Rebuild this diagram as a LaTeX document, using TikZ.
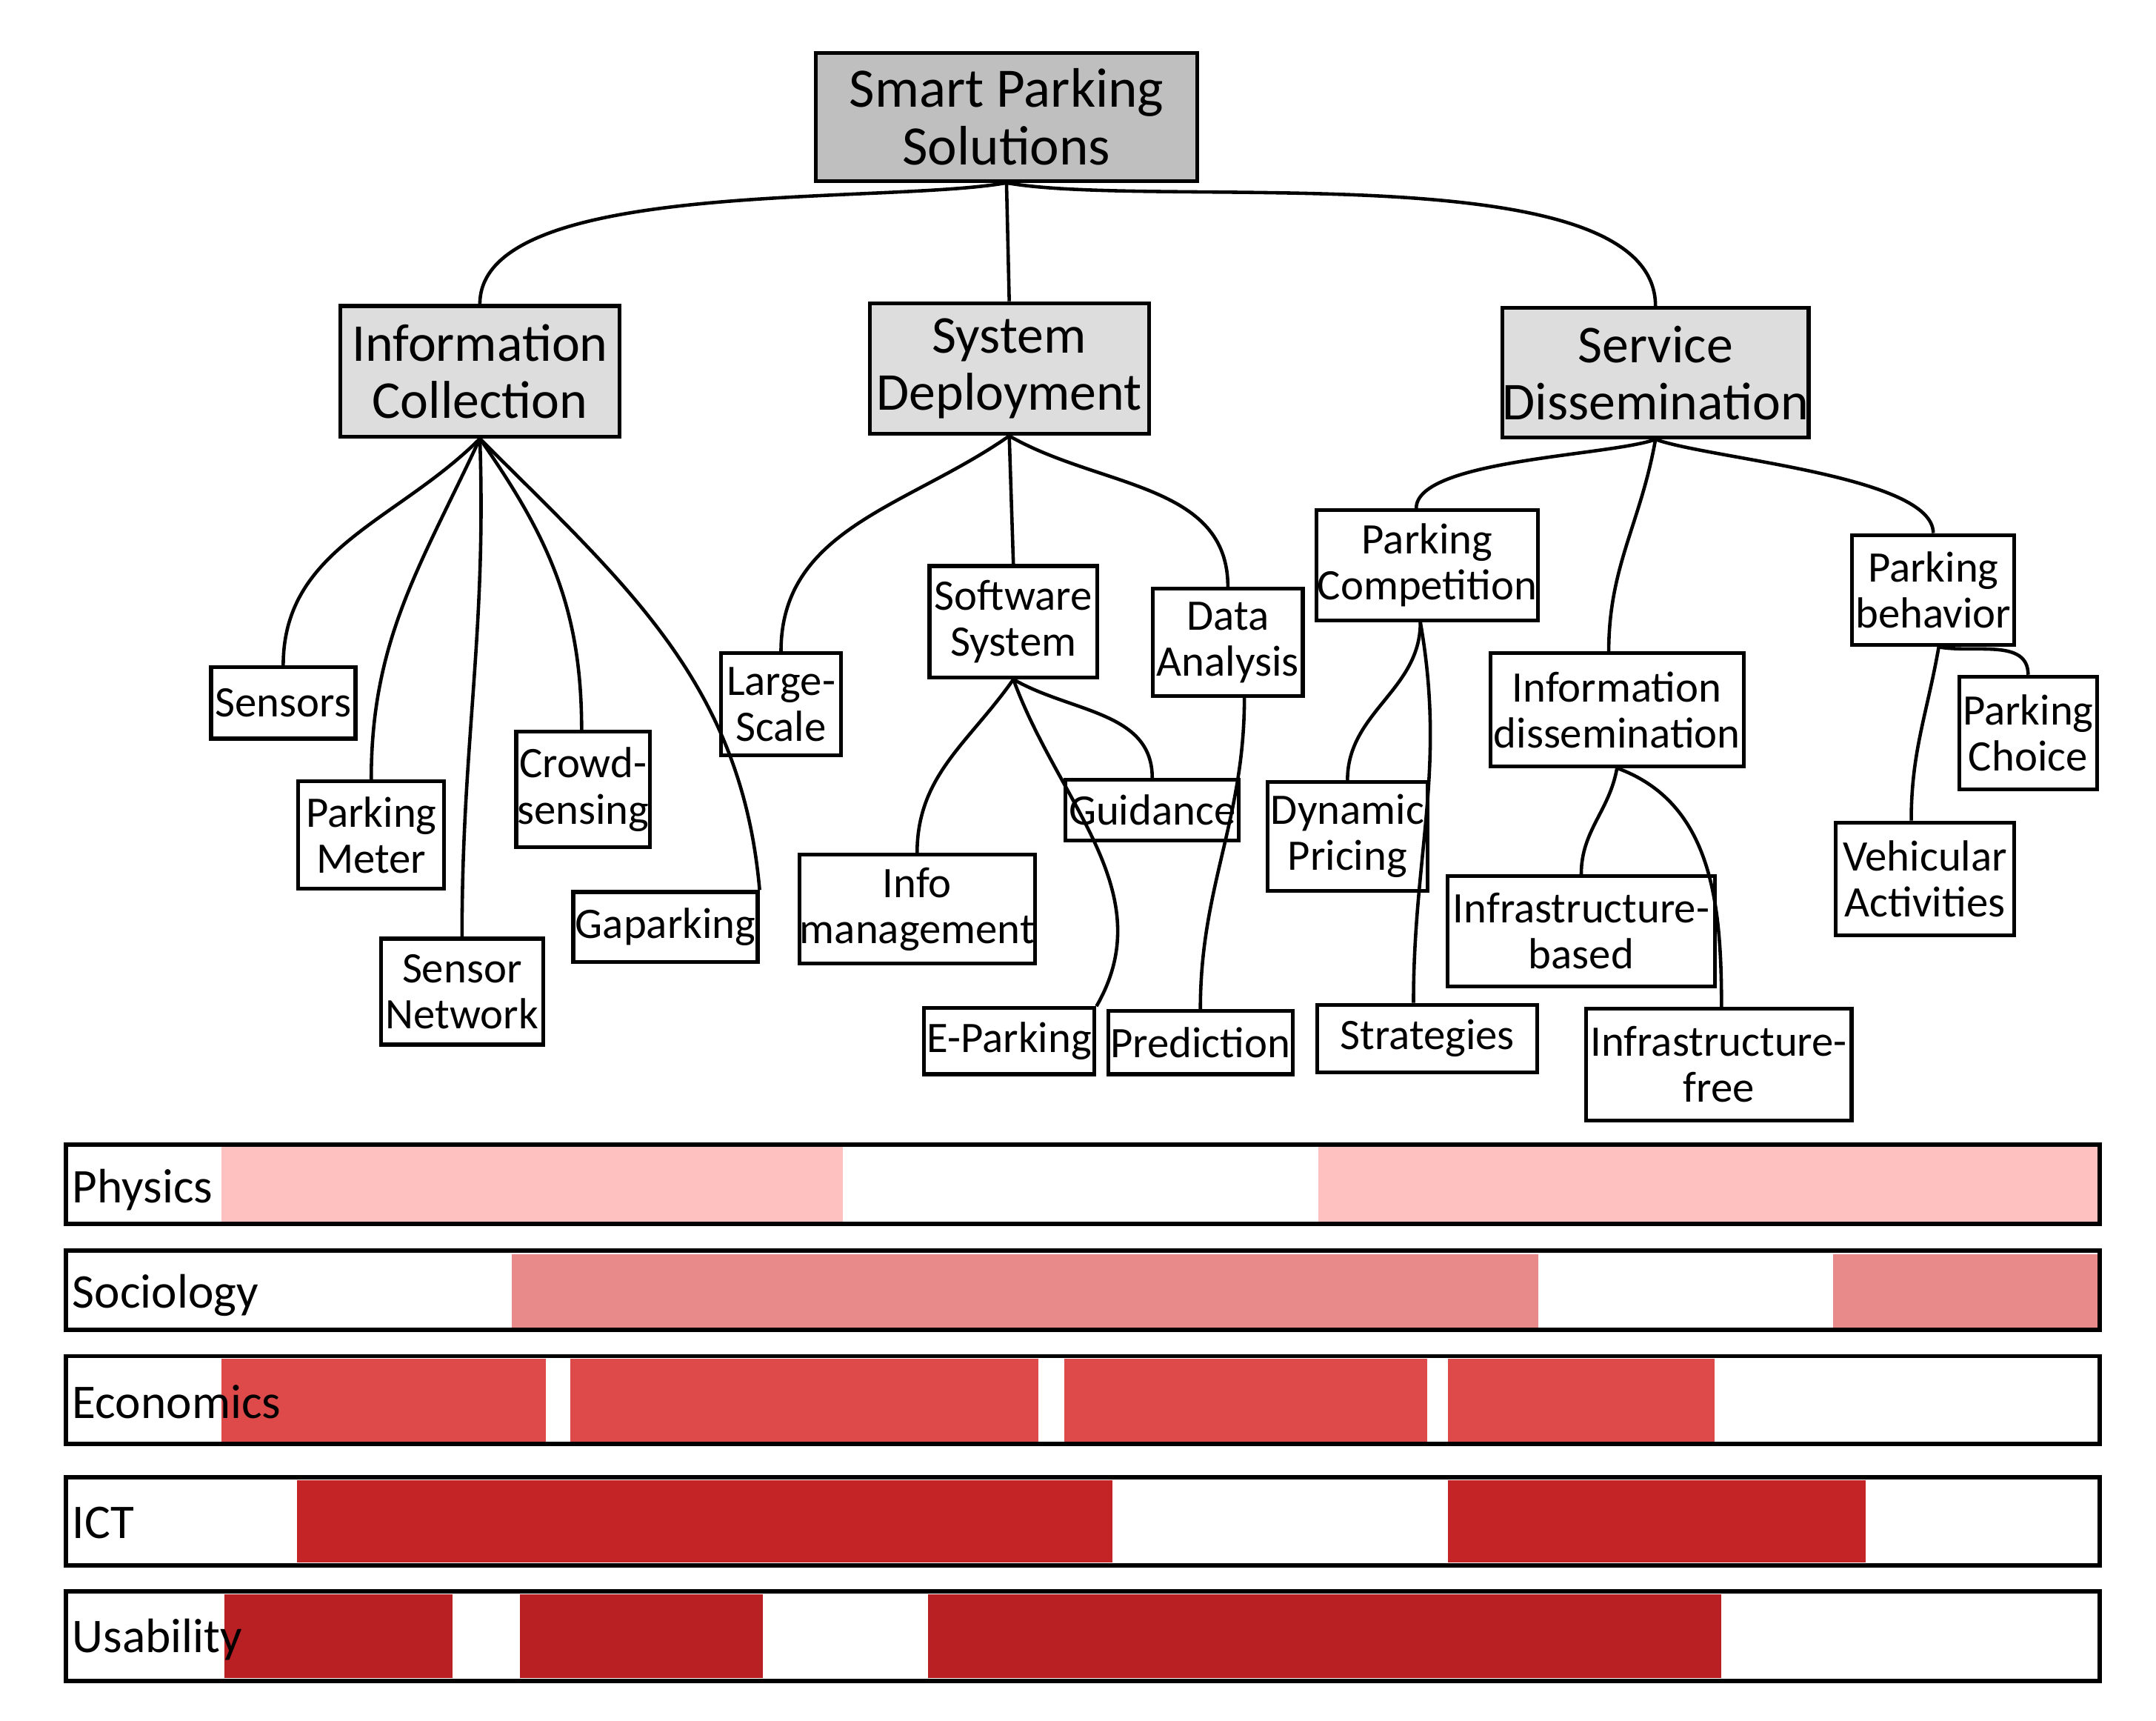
\documentclass[tikz,border=0pt]{standalone}
\usepackage{fontspec}
\setmainfont{Carlito}
\usepackage{tikz}

\definecolor{rootgray}{RGB}{191,191,191}
\definecolor{midgray}{RGB}{221,221,221}
\definecolor{physc}{RGB}{255,192,192}
\definecolor{socc}{RGB}{232,138,138}
\definecolor{ecoc}{RGB}{222,74,74}
\definecolor{ictc}{RGB}{196,36,38}
\definecolor{usac}{RGB}{185,32,36}

\tikzset{
  box/.style={draw, line width=0.8pt, inner sep=0pt, align=center, font=\fontsize{9}{9.5}\selectfont},
  topbox/.style={box, fill=rootgray, font=\fontsize{11.5}{12}\selectfont},
  midbox/.style={box, fill=midgray, font=\fontsize{11}{11.8}\selectfont},
  link/.style={line width=0.7pt},
  bar/.style={draw, line width=0.9pt},
  barlabel/.style={anchor=west, inner sep=0pt, font=\fontsize{10}{10}\selectfont}
}

\begin{document}
\begin{tikzpicture}[x=0.01cm, y=-0.01cm]
    \useasboundingbox (0,0) rectangle (1568,1251);

    % Tree levels
    \node[topbox, minimum width=2.77cm, minimum height=0.93cm] (root) at (732,85) {Smart Parking\\Solutions};
    \node[midbox, minimum width=2.03cm, minimum height=0.95cm] (info) at (349,270) {Information\\Collection};
    \node[midbox, minimum width=2.03cm, minimum height=0.95cm] (sys) at (734,268) {System\\Deployment};
    \node[midbox, minimum width=2.03cm, minimum height=0.94cm] (serv) at (1204,271) {Service\\Dissemination};

    % Information collection leaves
    \node[box, minimum width=1.05cm, minimum height=0.52cm] (sensors) at (206,511) {Sensors};
    \node[box, minimum width=1.06cm, minimum height=0.78cm] (meter) at (270,607) {Parking\\Meter};
    \node[box, minimum width=1.18cm, minimum height=0.77cm] (snet) at (336,721) {Sensor\\Network};
    \node[box, minimum width=0.97cm, minimum height=0.84cm] (crowd) at (424,574) {Crowd-\\sensing};
    \node[box, minimum width=1.34cm, minimum height=0.51cm] (gap) at (484,674) {Gaparking};

    % System deployment leaves
    \node[box, minimum width=0.87cm, minimum height=0.74cm] (large) at (568,512) {Large-\\Scale};
    \node[box, minimum width=1.22cm, minimum height=0.81cm] (soft) at (737,452) {Software\\System};
    \node[box, minimum width=1.09cm, minimum height=0.78cm] (data) at (893,467) {Data\\Analysis};
    \node[box, minimum width=1.26cm, minimum height=0.44cm] (guid) at (838,589) {Guidance};
    \node[box, minimum width=1.71cm, minimum height=0.79cm] (imgmt) at (667,661) {Info\\management};
    \node[box, minimum width=1.24cm, minimum height=0.48cm] (epark) at (734,757) {E-Parking};
    \node[box, minimum width=1.34cm, minimum height=0.46cm] (pred) at (873,758) {Prediction};

    % Service dissemination leaves
    \node[box, minimum width=1.61cm, minimum height=0.80cm] (comp) at (1038,411) {Parking\\Competition};
    \node[box, minimum width=1.16cm, minimum height=0.79cm] (dyn) at (980,608) {Dynamic\\Pricing};
    \node[box, minimum width=1.60cm, minimum height=0.49cm] (strat) at (1038,755) {Strategies};
    \node[box, minimum width=1.84cm, minimum height=0.82cm] (idis) at (1176,516) {Information\\dissemination};
    \node[box, minimum width=1.94cm, minimum height=0.80cm] (ibased) at (1150,677) {Infrastructure-\\based};
    \node[box, minimum width=1.93cm, minimum height=0.81cm] (ifree) at (1250,774) {Infrastructure-\\free};
    \node[box, minimum width=1.18cm, minimum height=0.80cm] (beh) at (1406,429) {Parking\\behavior};
    \node[box, minimum width=1.00cm, minimum height=0.82cm] (choice) at (1475,533) {Parking\\Choice};
    \node[box, minimum width=1.30cm, minimum height=0.82cm] (veh) at (1400,639) {Vehicular\\Activities};

    % Connectors
    \draw[link] (root.south) to[out=-170, in=90, looseness=0.6] (info.north);
    \draw[link] (root.south) -- (sys.north);
    \draw[link] (root.south) to[out=-10, in=90, looseness=0.6] (serv.north);

    \draw[link] (info.south) to[out=-135, in=90] (sensors.north);
    \draw[link] (info.south) to[out=-115, in=90] (meter.north);
    \draw[link] (info.south) to[out=-88, in=90] (snet.north);
    \draw[link] (info.south) to[out=-55, in=90] ([xshift=-0.01cm]crowd.north);
    \draw[link] (info.south) to[out=-45, in=95] (gap.north east);

    \draw[link] (sys.south) to[out=-145, in=90] (large.north);
    \draw[link] (sys.south) -- (soft.north);
    \draw[link] (sys.south) to[out=-30, in=90] (data.north);
    \draw[link] (soft.south) to[out=-125, in=90] (imgmt.north);
    \draw[link] (soft.south) to[out=-30, in=90] (guid.north);
    \draw[link] (soft.south) to[out=-70, in=60] (epark.north east);
    \draw[link] ([xshift=0.12cm]data.south) to[out=-90, in=90] (pred.north);

    \draw[link] (serv.south) to[out=-160, in=90, looseness=0.5] ([xshift=-0.08cm]comp.north);
    \draw[link] (serv.south) to[out=-100, in=90] ([xshift=-0.06cm]idis.north);
    \draw[link] (serv.south) to[out=-20, in=90, looseness=0.5] (beh.north);
    \draw[link] ([xshift=-0.05cm]comp.south) to[out=-90, in=90] (dyn.north);
    \draw[link] ([xshift=-0.05cm]comp.south) to[out=-80, in=90] ([xshift=-0.1cm]strat.north);
    \draw[link] (idis.south) to[out=-100, in=90] (ibased.north);
    \draw[link] (idis.south) to[out=-20, in=90] ([xshift=0.02cm]ifree.north);
    \draw[link] ([xshift=0.04cm]beh.south) to[out=-10, in=90] (choice.north);
    \draw[link] ([xshift=0.04cm]beh.south) to[out=-100, in=90] ([xshift=-0.1cm]veh.north);

    % Discipline bars
    \fill[physc] (161,834) rectangle (613,888);
    \fill[physc] (959,834) rectangle (1527,888);
    \draw[bar] (48,832) rectangle (1527,890);
    \node[barlabel] at (52,865) {Physics};

    \fill[socc] (372,912) rectangle (1119,965);
    \fill[socc] (1333,912) rectangle (1527,965);
    \draw[bar] (48,909) rectangle (1527,967);
    \node[barlabel] at (52,942) {Sociology};

    \fill[ecoc] (161,988) rectangle (397,1048);
    \fill[ecoc] (415,988) rectangle (755,1048);
    \fill[ecoc] (774,988) rectangle (1038,1048);
    \fill[ecoc] (1053,988) rectangle (1247,1048);
    \draw[bar] (48,986) rectangle (1527,1050);
    \node[barlabel] at (52,1019) {Economics};

    \fill[ictc] (216,1076) rectangle (809,1136);
    \fill[ictc] (1053,1076) rectangle (1357,1136);
    \draw[bar] (48,1074) rectangle (1527,1138);
    \node[barlabel] at (52,1107) {ICT};

    \fill[usac] (163,1159) rectangle (329,1220);
    \fill[usac] (378,1159) rectangle (555,1220);
    \fill[usac] (675,1159) rectangle (1252,1220);
    \draw[bar] (48,1157) rectangle (1527,1222);
    \node[barlabel] at (52,1192) {Usability};
\end{tikzpicture}
\end{document}
